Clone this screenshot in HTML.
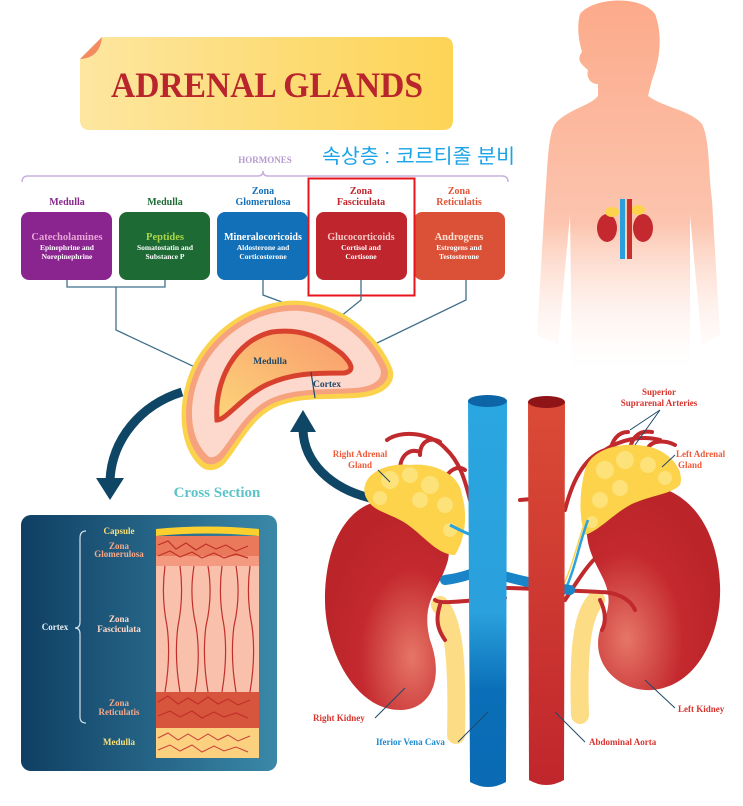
<!DOCTYPE html>
<html><head><meta charset="utf-8"><style>
html,body{margin:0;padding:0;background:#fff;}
svg{display:block;font-family:"Liberation Serif",serif;}
.b{font-weight:bold;}
</style></head><body>
<svg width="743" height="806" viewBox="0 0 743 806" xmlns="http://www.w3.org/2000/svg">
<defs>
<linearGradient id="ban" x1="0" x2="1"><stop offset="0" stop-color="#fde6a0"/><stop offset="1" stop-color="#fdd455"/></linearGradient>
<linearGradient id="body" x1="0" y1="0" x2="0" y2="1"><stop offset="0" stop-color="#fcaa8a"/><stop offset="0.6" stop-color="#fcc4ae"/><stop offset="1" stop-color="#fff" stop-opacity="0.2"/></linearGradient>
<linearGradient id="cs" x1="0" x2="1"><stop offset="0" stop-color="#0f3f63"/><stop offset="1" stop-color="#3a88a8"/></linearGradient>
<linearGradient id="vc" x1="0" y1="0" x2="0" y2="1"><stop offset="0" stop-color="#2aa6e0"/><stop offset="0.55" stop-color="#2aa0dc"/><stop offset="0.75" stop-color="#0a6fb8"/><stop offset="1" stop-color="#0a6ab4"/></linearGradient>
<linearGradient id="ao" x1="0" y1="0" x2="0" y2="1"><stop offset="0" stop-color="#db4b36"/><stop offset="1" stop-color="#c0262c"/></linearGradient>
<radialGradient id="kid" cx="0.7" cy="0.75" r="0.7"><stop offset="0" stop-color="#e67666"/><stop offset="0.6" stop-color="#c4292f"/><stop offset="1" stop-color="#bb2529"/></radialGradient>
<radialGradient id="kid2" cx="0.3" cy="0.75" r="0.7"><stop offset="0" stop-color="#e67666"/><stop offset="0.6" stop-color="#c4292f"/><stop offset="1" stop-color="#bb2529"/></radialGradient>
<linearGradient id="med" x1="0" y1="1" x2="1" y2="0"><stop offset="0" stop-color="#fcd57a"/><stop offset="1" stop-color="#f99a6c"/></linearGradient>
</defs>

<!-- body silhouette -->
<path d="M580,14 C592,-2 640,-6 655,14 C663,35 660,60 652,80 L648,96 C665,108 690,110 702,124 C710,140 708,170 712,200 L720,335 L702,345 L690,215 L690,370 L572,370 L570,215 L558,345 L537,335 L545,200 C548,160 548,135 555,124 C566,110 590,106 598,96 L598,84 C590,84 586,77 588,70 C581,64 576,60 582,52 C578,38 577,25 580,14 Z" fill="url(#body)"/>
<!-- mini kidneys -->
<ellipse cx="607" cy="228" rx="10" ry="14" fill="#c4292f"/>
<ellipse cx="643" cy="228" rx="10" ry="14" fill="#c4292f"/>
<ellipse cx="612" cy="212" rx="7" ry="5" fill="#fcd34a"/>
<ellipse cx="638" cy="210" rx="7" ry="5" fill="#fcd34a"/>
<rect x="620" y="199" width="5" height="60" fill="#2a9fdc"/>
<rect x="627" y="199" width="5" height="60" fill="#c8302d"/>

<!-- banner -->
<path d="M102,37 L443,37 Q453,37 453,47 L453,120 Q453,130 443,130 L90,130 Q80,130 80,120 L80,59 Z" fill="url(#ban)"/>
<path d="M80,59 L102,37 Q100,58 80,59 Z" fill="#f28b62"/>
<text x="267" y="97" text-anchor="middle" font-size="36" class="b" fill="#b9252c" textLength="312" lengthAdjust="spacingAndGlyphs">ADRENAL GLANDS</text>

<!-- korean note -->
<text x="322" y="163" font-family="'Liberation Sans','Noto Sans CJK KR',sans-serif" font-size="20" fill="#1aa3e6" textLength="193" lengthAdjust="spacingAndGlyphs">속상층 : 코르티졸 분비</text>

<!-- hormones -->
<text x="265" y="163" text-anchor="middle" font-size="9" class="b" fill="#b59ad0">HORMONES</text>
<path d="M22,182 Q22,176 28,176 L258,176 Q263,176 263,171 Q263,176 268,176 L502,176 Q508,176 508,182" fill="none" stroke="#c8b0dc" stroke-width="1.5"/>

<g font-size="10" class="b" text-anchor="middle">
<text x="67" y="205" fill="#8a2a8f">Medulla</text>
<text x="165" y="205" fill="#1e6b35">Medulla</text>
<text x="263" y="194" fill="#1570b8">Zona</text><text x="263" y="205" fill="#1570b8">Glomerulosa</text>
<text x="361" y="194" fill="#c0272d">Zona</text><text x="361" y="205" fill="#c0272d">Fasciculata</text>
<text x="459" y="194" fill="#e0553a">Zona</text><text x="459" y="205" fill="#e0553a">Reticulatis</text>
</g>
<rect x="21" y="212" width="91" height="68" rx="8" fill="#8a2590"/>
<rect x="119" y="212" width="91" height="68" rx="8" fill="#1d6a35"/>
<rect x="217" y="212" width="91" height="68" rx="8" fill="#1270b8"/>
<rect x="316" y="212" width="91" height="68" rx="8" fill="#bf252d"/>
<rect x="414" y="212" width="91" height="68" rx="8" fill="#da5138"/>
<g text-anchor="middle" class="b">
<text x="67" y="240" font-size="10.5" fill="#e9a3d6">Catecholamines</text>
<text x="67" y="250" font-size="7.5" fill="#fff">Epinephrine and</text><text x="67" y="259" font-size="7.5" fill="#fff">Norepinephrine</text>
<text x="165" y="240" font-size="10.5" fill="#a9d64a">Peptides</text>
<text x="165" y="250" font-size="7.5" fill="#fff">Somatostatin and</text><text x="165" y="259" font-size="7.5" fill="#fff">Substance P</text>
<text x="263" y="240" font-size="10" fill="#fff">Mineralocoricoids</text>
<text x="263" y="250" font-size="7.5" fill="#fff">Aldosterone and</text><text x="263" y="259" font-size="7.5" fill="#fff">Corticosterone</text>
<text x="361" y="240" font-size="10" fill="#f7c9c5">Glucocorticoids</text>
<text x="361" y="250" font-size="7.5" fill="#fff">Cortisol and</text><text x="361" y="259" font-size="7.5" fill="#fff">Cortisone</text>
<text x="459" y="240" font-size="10.5" fill="#fde0d0">Androgens</text>
<text x="459" y="250" font-size="7.5" fill="#fff">Estrogens and</text><text x="459" y="259" font-size="7.5" fill="#fff">Testosterone</text>
</g>
<rect x="308.5" y="178.5" width="106" height="117" fill="none" stroke="#e8141c" stroke-width="2"/>

<!-- connector lines -->
<g fill="none" stroke="#3f6f8a" stroke-width="1.3">
<path d="M67,280 L67,287 L165,287 L165,280"/>
<path d="M116,287 L116,330 L231,384"/>
<path d="M263,280 L263,295 L282,302"/>
<path d="M361,280 L361,300 L325,329"/>
<path d="M466,280 L466,300 L342,360"/>
</g>

<!-- adrenal cross-section shape -->
<path d="M200,466 C172,440 178,380 204,348 C230,314 270,298 302,301 C342,304 378,334 392,368 C398,384 382,397 355,398 C322,400 300,397 276,407 C252,418 242,442 226,462 C218,472 206,472 200,466 Z" fill="#fbd24c"/>
<path d="M203,461 C177,437 183,382 207,351 C232,318 270,303 301,305 C340,308 373,336 387,368 C392,381 379,392 355,393 C322,395 299,393 274,403 C250,414 239,438 224,457 C217,466 207,466 203,461 Z" fill="#f7a27f"/>
<path d="M207,455 C184,432 189,385 211,355 C235,322 271,309 300,311 C337,314 367,339 380,368 C384,379 374,387 354,388 C321,390 297,388 272,398 C248,409 236,432 222,450 C216,458 210,459 207,455 Z" fill="#fdd8cc"/>
<path d="M217,420 C214,380 236,340 272,332 C302,328 322,338 342,354 C352,364 355,371 344,373 C314,373 290,373 264,386 C240,399 226,420 217,420 Z" fill="url(#med)" stroke="#d9412f" stroke-width="5"/>
<text x="270" y="364" text-anchor="middle" font-size="9.5" class="b" fill="#1f4a68">Medulla</text>
<text x="313" y="387" font-size="9.5" class="b" fill="#1f4a68">Cortex</text>
<path d="M311,372 L315,398" stroke="#1f4a68" stroke-width="1.2"/>

<!-- arrows -->
<path d="M182,392 C140,405 112,440 110,480" fill="none" stroke="#0f4565" stroke-width="9"/>
<path d="M96,478 L124,478 L110,500 Z" fill="#0f4565"/>
<path d="M370,498 C330,488 304,462 303,430" fill="none" stroke="#0f4565" stroke-width="9"/>
<path d="M290,432 L316,432 L303,410 Z" fill="#0f4565"/>

<text x="217" y="497" text-anchor="middle" font-size="15" class="b" fill="#5cc4c9">Cross Section</text>

<!-- cross section panel -->
<rect x="21" y="515" width="256" height="256" rx="10" fill="url(#cs)"/>
<rect x="156" y="536" width="103" height="20" fill="#e9795a"/>
<rect x="156" y="556" width="103" height="10" fill="#f49a80"/>
<rect x="156" y="566" width="103" height="126" fill="#f9c0ac"/>
<rect x="156" y="692" width="103" height="36" fill="#d7553c"/>
<rect x="156" y="728" width="103" height="30" fill="#fbd07e"/>
<path d="M156,529 Q207,524 259,529 L259,536 Q207,531 156,536 Z" fill="#fbd02e"/>
<g fill="none" stroke="#c12f2a" stroke-width="1.2">
<path d="M165,566 q-4,30 2,60 q4,30 -2,66"/><path d="M180,566 q4,30 -2,60 q-4,30 2,66"/>
<path d="M194,566 q-5,30 2,60 q5,30 -1,66"/><path d="M208,566 q5,30 -2,60 q-4,30 2,66"/>
<path d="M222,566 q-4,30 2,60 q4,30 -2,66"/><path d="M236,566 q5,30 -2,60 q-4,30 2,66"/>
<path d="M250,566 q-4,30 2,60 q4,30 -2,66"/>
<path d="M158,545 l10,-4 l8,8 l10,-6 l10,7 l10,-6 l10,5 l10,-4 l10,6 l12,-5"/>
<path d="M158,556 l12,-5 l10,6 l12,-5 l10,6 l12,-5 l10,5 l12,-4 l12,4"/>
<path d="M158,702 l10,-6 l10,8 l10,-6 l10,6 l10,-7 l10,7 l10,-5 l10,6 l12,-5"/>
<path d="M158,716 l12,-5 l10,6 l12,-6 l10,7 l12,-6 l10,5 l12,-4 l12,5"/>
</g>
<g fill="none" stroke="#c8403a" stroke-width="1">
<path d="M158,738 l10,-5 l10,7 l10,-6 l10,6 l10,-6 l10,6 l10,-5 l10,6 l12,-5"/>
<path d="M158,750 l12,-5 l10,6 l12,-6 l10,7 l12,-6 l10,5 l12,-4 l12,5"/>
</g>
<path d="M86,531 Q80,531 80,538 L80,622 Q80,628 75,628 Q80,628 80,634 L80,717 Q80,723 86,723" fill="none" stroke="#cfe3ea" stroke-width="1.2"/>
<g text-anchor="middle" class="b" font-size="9">
<text x="119" y="534" fill="#f7e07a">Capsule</text>
<text x="119" y="549" fill="#f5a88a">Zona</text><text x="119" y="557" fill="#f5a88a">Glomerulosa</text>
<text x="119" y="622" fill="#ffd9cc">Zona</text><text x="119" y="632" fill="#ffd9cc">Fasciculata</text>
<text x="119" y="706" fill="#f5a88a">Zona</text><text x="119" y="715" fill="#f5a88a">Reticulatis</text>
<text x="119" y="745" fill="#f7e07a">Medulla</text>
<text x="55" y="630" fill="#e6f0f4">Cortex</text>
</g>

<!-- ureters -->
<path d="M440,605 C452,620 458,650 456,735" fill="none" stroke="#fddc86" stroke-width="18" stroke-linecap="round"/>
<path d="M596,600 C582,615 578,650 580,715" fill="none" stroke="#fddc86" stroke-width="18" stroke-linecap="round"/>
<!-- right kidney -->
<path d="M385,500 C430,495 455,520 448,560 C440,590 420,600 430,640 C445,680 430,710 400,710 C355,710 325,650 325,600 C325,540 350,503 385,500 Z" fill="url(#kid)"/>
<!-- left kidney -->
<path d="M640,485 C600,485 578,510 590,550 C600,580 620,590 600,630 C590,665 620,692 652,690 C700,686 722,630 720,585 C718,530 690,485 640,485 Z" fill="url(#kid2)"/>
<!-- arteries -->
<g fill="none" stroke="#c12a2d" stroke-width="4" stroke-linecap="round">
<path d="M387,440 C400,430 430,432 445,448 C460,462 465,480 470,500"/>
<path d="M420,455 C420,442 430,436 440,442"/>
<path d="M400,470 C400,455 410,448 420,452"/>
<path d="M445,480 C448,470 458,465 465,470"/>
<path d="M520,500 C540,498 550,498 560,500"/>
<path d="M565,510 C575,470 590,455 605,450 C620,440 640,435 660,440"/>
<path d="M610,452 C612,440 618,432 628,432"/>
<path d="M630,448 C633,436 640,430 652,432"/>
<path d="M648,448 C652,440 665,440 675,445"/>
<path d="M600,555 C590,560 575,585 565,600"/>
<path d="M505,588 C520,588 560,590 600,592 C615,592 630,598 635,610"/>
<path d="M435,600 C440,605 470,600 505,598"/>
<path d="M440,605 C435,620 438,630 445,640"/>
<path d="M600,600 C605,610 607,620 602,630"/>
</g>
<!-- right adrenal -->
<path d="M365,495 C360,475 385,462 410,465 C435,462 460,475 462,495 C468,515 465,540 455,555 C435,555 420,530 400,520 C385,512 370,510 365,495 Z" fill="#fcd34a"/>
<g fill="#fde27a"><circle cx="390" cy="480" r="9"/><circle cx="410" cy="475" r="8"/><circle cx="430" cy="485" r="9"/><circle cx="445" cy="505" r="8"/><circle cx="450" cy="530" r="7"/><circle cx="420" cy="500" r="8"/><circle cx="380" cy="498" r="7"/></g>
<!-- left adrenal -->
<path d="M585,470 C590,450 620,440 650,447 C670,452 685,470 680,485 C670,495 650,495 630,505 C612,515 600,530 585,535 C578,515 580,490 585,470 Z" fill="#fcd34a"/>
<g fill="#fde27a"><circle cx="605" cy="470" r="9"/><circle cx="625" cy="460" r="9"/><circle cx="648" cy="465" r="8"/><circle cx="665" cy="478" r="7"/><circle cx="600" cy="500" r="8"/><circle cx="620" cy="488" r="8"/><circle cx="592" cy="522" r="6"/></g>
<!-- small veins -->
<path d="M450,525 C460,530 465,533 472,535" fill="none" stroke="#2aa3dc" stroke-width="3"/>
<path d="M588,520 C580,540 575,570 565,590" fill="none" stroke="#2aa3dc" stroke-width="2.5"/>
<path d="M585,522 C578,540 572,570 560,592" fill="none" stroke="#fcd34a" stroke-width="1.5"/>
<!-- renal veins -->
<path d="M445,580 C460,578 470,575 480,570" fill="none" stroke="#1a84c8" stroke-width="10" stroke-linecap="round"/>
<path d="M500,575 C525,582 555,588 570,590" fill="none" stroke="#1a84c8" stroke-width="10" stroke-linecap="round"/>
<!-- aorta -->
<path d="M528,402 L565,402 L564,780 Q546,790 529,780 Z" fill="url(#ao)"/>
<ellipse cx="546.5" cy="402" rx="18.5" ry="6" fill="#8e1418"/>
<!-- vena cava -->
<path d="M468,401 L507,401 L506,782 Q488,792 470,782 Z" fill="url(#vc)"/>
<ellipse cx="487.5" cy="401" rx="19.5" ry="6" fill="#0d65a8"/>

<!-- labels -->
<g class="b" font-size="9">
<text x="360" y="457" text-anchor="middle" fill="#ef5a38">Right Adrenal</text>
<text x="360" y="468" text-anchor="middle" fill="#ef5a38">Gland</text>
<text x="676" y="457" fill="#ef5a38">Left Adrenal</text>
<text x="690" y="468" fill="#ef5a38" text-anchor="middle">Gland</text>
<text x="659" y="395" text-anchor="middle" fill="#d8352f">Superior</text>
<text x="659" y="406" text-anchor="middle" fill="#d8352f">Suprarenal Arteries</text>
<text x="313" y="721" fill="#d8352f">Right Kidney</text>
<text x="678" y="712" fill="#d8352f">Left Kidney</text>
<text x="376" y="745" fill="#1c8ad0">Iferior Vena Cava</text>
<text x="589" y="745" fill="#d8352f">Abdominal Aorta</text>
</g>
<g stroke="#1f4a68" stroke-width="1" fill="none">
<path d="M378,470 L390,482"/>
<path d="M675,455 L662,467"/>
<path d="M660,410 L630,430 M660,410 L635,445"/>
<path d="M375,718 L405,688"/>
<path d="M675,708 L645,680"/>
<path d="M458,742 L488,712"/>
<path d="M585,742 L555,712"/>
</g>
</svg>
</body></html>
